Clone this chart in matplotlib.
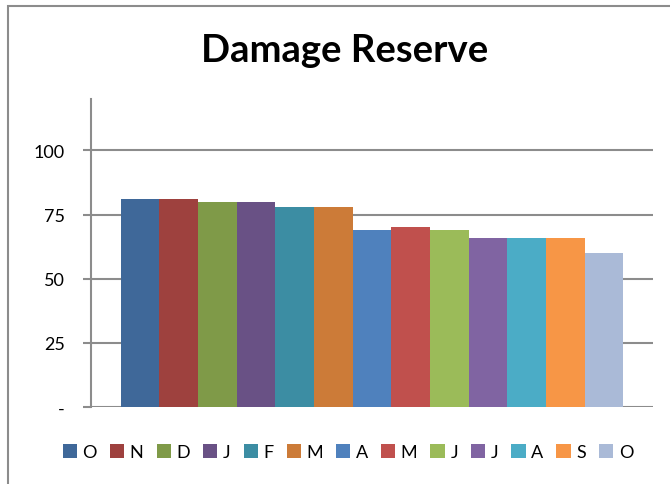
import matplotlib
matplotlib.use("Agg")
import matplotlib.pyplot as plt
from matplotlib.patches import Rectangle

# Monthly damage reserve, October through October
months = ["O", "N", "D", "J", "F", "M", "A", "M", "J", "J", "A", "S", "O"]
reserve = [81, 81, 80, 80, 78, 78, 69, 70, 69, 66, 66, 66, 60]
colors = ["#3F6899", "#9E413E", "#7F9A48", "#695185", "#3C8DA3", "#CC7B38",
          "#4F81BD", "#C0504D", "#9BBB59", "#8064A2", "#4BACC6", "#F79646",
          "#AABAD7"]
yticks = [0, 25, 50, 75, 100]
yticklabels = ["-", "25", "50", "75", "100"]

plt.rcParams["font.family"] = ["Lato", "DejaVu Sans"]

W, H = 670, 485
fig = plt.figure(figsize=(W / 100, H / 100), dpi=100)

# chart frame (extends past the right and bottom edges)
fig.patches.append(Rectangle((8 / W, -0.1), 1.2, 1 - 7 / H + 0.1,
                             transform=fig.transFigure, fill=False,
                             edgecolor="#8C8C8C", linewidth=1.5))

left, right, top, bottom = 91, 653, 100, 408
ax = fig.add_axes([left / W, 1 - bottom / H, (right - left) / W, (bottom - top) / H])

n = len(reserve)
group = 0.895
bw = group / n
for i, (m, v, c) in enumerate(zip(months, reserve, colors)):
    x = -group / 2 + bw * (i + 0.5)
    ax.bar(x, v, width=bw, color=c, label=m, zorder=3, linewidth=0)

ax.set_xlim(-0.5, 0.5)
ax.set_ylim(0, 120)
ax.set_yticks(yticks)
ax.set_yticklabels(yticklabels, fontsize=13)
ax.set_xticks([])
for s in ["top", "right", "bottom"]:
    ax.spines[s].set_visible(False)
ax.spines["left"].set_color("#8C8C8C")
ax.spines["left"].set_linewidth(1.5)
ax.tick_params(axis="y", length=6, width=1.5, color="#8C8C8C", pad=13)
ax.yaxis.grid(True, color="#8C8C8C", linewidth=1.5, zorder=0)
ax.set_axisbelow(True)

fig.text(345 / W, 1 - 51 / H, "Damage Reserve", ha="center", va="center",
         fontsize=27.5, fontweight="bold")

fig.legend(loc="center", bbox_to_anchor=(348 / W, 1 - 453 / H), ncol=n,
           frameon=False, fontsize=13, handlelength=0.8, handleheight=0.8,
           handletextpad=0.3, columnspacing=0.72, borderaxespad=0)

fig.savefig("out.png", dpi=100)
